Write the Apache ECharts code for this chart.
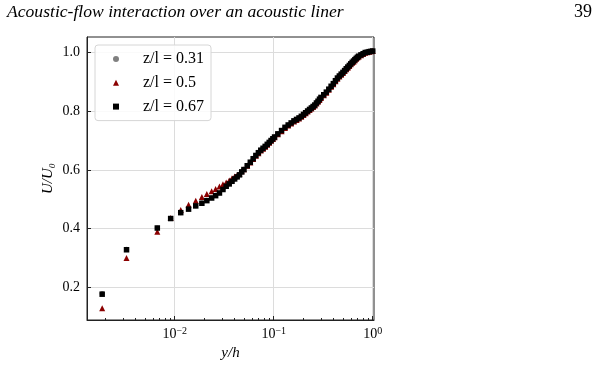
<!DOCTYPE html>
<html>
<head>
<meta charset="utf-8">
<script src="https://cdn.jsdelivr.net/npm/echarts@6/dist/echarts.min.js"></script>
<style>
  html, body { margin: 0; padding: 0; background: #fff; }
  #chart { width: 600px; height: 365px; }
</style>
</head>
<body>
<div id="chart"></div>
<script>
// y/h positions (shared by all three profiles)
const yOverH = [
  0.00185, 0.00326, 0.00667, 0.0091, 0.0115, 0.0138, 0.0163, 0.0188, 0.0211, 0.0236, 0.0259, 0.0283,
  0.0307, 0.0331, 0.0355, 0.0379, 0.0403, 0.0427, 0.0451, 0.0475, 0.050,
  0.054, 0.058, 0.062, 0.066, 0.070, 0.074, 0.078, 0.082, 0.086, 0.090, 0.094, 0.098,
  0.102, 0.11, 0.12, 0.13, 0.14, 0.15, 0.16, 0.17, 0.18, 0.19, 0.20, 0.21, 0.22, 0.23, 0.24, 0.25, 0.26, 0.27, 0.28, 0.29, 0.30,
  0.32, 0.34, 0.36, 0.38, 0.40, 0.42, 0.44, 0.46, 0.48, 0.50, 0.52, 0.54, 0.56, 0.58, 0.60, 0.62, 0.64, 0.66, 0.68, 0.70, 0.72, 0.76, 0.80, 0.84, 0.88, 0.92, 0.96, 1.0
];

// U/U0 for z/l = 0.31 (grey, drawn first, mostly hidden)
const uZ031 = [
  0.178, 0.329, 0.402, 0.434, 0.454, 0.467, 0.478, 0.487, 0.496, 0.505, 0.513, 0.522,
  0.534, 0.544, 0.553, 0.561, 0.569, 0.577, 0.584, 0.593, 0.601,
  0.614, 0.626, 0.638, 0.649, 0.658, 0.667, 0.674, 0.680, 0.687, 0.694, 0.700, 0.706,
  0.712, 0.723, 0.734, 0.745, 0.753, 0.760, 0.767, 0.772, 0.777, 0.783, 0.789, 0.795, 0.801, 0.806, 0.811, 0.816, 0.821, 0.828, 0.834, 0.841, 0.847,
  0.856, 0.865, 0.875, 0.885, 0.894, 0.904, 0.913, 0.920, 0.926, 0.932, 0.938, 0.945, 0.950, 0.956, 0.961, 0.967, 0.971, 0.976, 0.980, 0.984, 0.987, 0.992, 0.996, 1.000, 1.001, 1.003, 1.004, 1.005
];

// U/U0 for z/l = 0.5 (dark red triangles)
const uZ05 = [
  0.128, 0.299, 0.389, 0.436, 0.463, 0.481, 0.495, 0.507, 0.518, 0.527, 0.535, 0.543,
  0.551, 0.557, 0.564, 0.571, 0.577, 0.582, 0.587, 0.595, 0.602,
  0.614, 0.625, 0.637, 0.648, 0.657, 0.666, 0.672, 0.679, 0.686, 0.692, 0.699, 0.705,
  0.711, 0.721, 0.732, 0.743, 0.751, 0.758, 0.765, 0.770, 0.775, 0.781, 0.787, 0.793, 0.799, 0.804, 0.809, 0.814, 0.819, 0.826, 0.832, 0.838, 0.845,
  0.854, 0.863, 0.873, 0.883, 0.892, 0.902, 0.911, 0.918, 0.924, 0.930, 0.937, 0.943, 0.948, 0.954, 0.960, 0.965, 0.969, 0.974, 0.979, 0.983, 0.986, 0.991, 0.995, 0.999, 1.001, 1.003, 1.004, 1.005
];

// U/U0 for z/l = 0.67 (black squares, drawn last)
const uZ067 = [
  0.176, 0.3275, 0.4017, 0.434, 0.454, 0.466, 0.477, 0.486, 0.495, 0.504, 0.512, 0.521,
  0.533, 0.544, 0.552, 0.561, 0.569, 0.576, 0.583, 0.593, 0.601,
  0.614, 0.626, 0.638, 0.649, 0.6585, 0.667, 0.6736, 0.680, 0.687, 0.6936, 0.700, 0.706,
  0.712, 0.7227, 0.734, 0.745, 0.753, 0.760, 0.767, 0.772, 0.777, 0.7826, 0.789, 0.7948, 0.8007, 0.806, 0.811, 0.816, 0.821, 0.828, 0.834, 0.841, 0.847,
  0.856, 0.865, 0.875, 0.885, 0.894, 0.904, 0.913, 0.920, 0.9264, 0.9323, 0.9385, 0.9449, 0.9505, 0.956, 0.9615, 0.9666, 0.971, 0.9757, 0.9799, 0.9838, 0.9875, 0.992, 0.996, 1.0, 1.001, 1.003, 1.004, 1.005
];

const seriesNames = ['z/l = 0.31', 'z/l = 0.5', 'z/l = 0.67'];
const xMajorTicks = [0.01, 0.1, 1];
const xMinorTicks = [
  0.002, 0.003, 0.004, 0.005, 0.006, 0.007, 0.008, 0.009,
  0.02, 0.03, 0.04, 0.05, 0.06, 0.07, 0.08, 0.09,
  0.2, 0.3, 0.4, 0.5, 0.6, 0.7, 0.8, 0.9
];
const yTicks = [0.2, 0.4, 0.6, 0.8, 1.0];
const xTickLabels = { 0.01: '\u22122', 0.1: '\u22121', 1: '0' };

const FONT = 'Liberation Serif';

function pairs(ys) {
  return yOverH.map((x, i) => [x, ys[i]]);
}

const chart = echarts.init(document.getElementById('chart'));

const option = {
  animation: false,
  backgroundColor: '#fff',
  title: [
    {
      text: 'Acoustic-flow interaction over an acoustic liner',
      left: 2, top: -2,
      textStyle: { fontFamily: FONT, fontStyle: 'italic', fontWeight: 'normal', fontSize: 17.6, color: '#000' }
    },
    {
      text: '39',
      left: 569, top: -2,
      textStyle: { fontFamily: FONT, fontWeight: 'normal', fontSize: 18, color: '#000' }
    }
  ],
  grid: {
    left: 87, right: 226, top: 37, bottom: 45,
    show: true, borderColor: '#222', borderWidth: 1,
    outerBoundsMode: 'none'
  },
  legend: {
    orient: 'vertical',
    left: 95, top: 45,
    padding: [6, 7, 6, 18],
    itemWidth: 6, itemHeight: 6,
    itemGap: 7.8,
    backgroundColor: 'rgba(255,255,255,0.85)',
    borderColor: '#d6d6d6', borderWidth: 1, borderRadius: 3,
    textStyle: { fontFamily: FONT, fontSize: 16, color: '#000', lineHeight: 14, padding: [0, 0, 0, 19] },
    data: [
      { name: seriesNames[0], icon: 'circle' },
      { name: seriesNames[1], icon: 'triangle' },
      { name: seriesNames[2], icon: 'rect' }
    ]
  },
  xAxis: [
    {
      type: 'log', logBase: 10,
      min: 0.0013, max: 1.03,
      name: 'y/h', nameLocation: 'middle', nameGap: 22,
      nameTextStyle: { fontFamily: FONT, fontStyle: 'italic', fontSize: 15, color: '#000' },
      axisLine: { show: true, lineStyle: { color: '#222', width: 1 } },
      axisTick: { show: true, inside: true, length: 4, customValues: xMajorTicks, lineStyle: { color: '#222' } },
      axisLabel: {
        customValues: xMajorTicks, margin: 6, color: '#000',
        fontFamily: FONT, fontSize: 14,
        formatter: v => '10{sup|' + xTickLabels[v] + '}',
        rich: {
          sup: { fontFamily: FONT, fontSize: 10, verticalAlign: 'top', padding: [0, 0, 6, 0], color: '#000' }
        }
      },
      splitLine: { show: true, lineStyle: { color: '#dcdcdc', width: 1 } },
      minorTick: { show: false },
      minorSplitLine: { show: false }
    },
    {
      type: 'log', logBase: 10,
      min: 0.0013, max: 1.03,
      gridIndex: 0, position: 'bottom',
      axisLine: { show: false },
      axisTick: { show: true, inside: true, length: 2, customValues: xMinorTicks, lineStyle: { color: '#222' } },
      axisLabel: { show: false },
      splitLine: { show: false }
    }
  ],
  yAxis: {
    type: 'value',
    min: 0.088, max: 1.053,
    name: 'U/U\u2080', nameLocation: 'middle', nameGap: 31, nameRotate: 90,
    nameTextStyle: { fontFamily: FONT, fontStyle: 'italic', fontSize: 15, color: '#000' },
    axisLine: { show: true, lineStyle: { color: '#222', width: 1 } },
    axisTick: { show: true, inside: true, length: 4, customValues: yTicks, lineStyle: { color: '#222' } },
    axisLabel: {
      customValues: yTicks, margin: 7, color: '#000',
      fontFamily: FONT, fontSize: 14,
      formatter: v => v.toFixed(1)
    },
    splitLine: { show: true, lineStyle: { color: '#dcdcdc', width: 1 } }
  },
  series: [
    {
      name: seriesNames[0], type: 'scatter', xAxisIndex: 0,
      symbol: 'circle', symbolSize: 5,
      itemStyle: { color: '#808080', opacity: 1 },
      data: pairs(uZ031)
    },
    {
      name: seriesNames[1], type: 'scatter', xAxisIndex: 0,
      symbol: 'triangle', symbolSize: 6,
      itemStyle: { color: '#8b0000', opacity: 1 },
      data: pairs(uZ05)
    },
    {
      name: seriesNames[2], type: 'scatter', xAxisIndex: 0,
      symbol: 'rect', symbolSize: 5.5,
      itemStyle: { color: '#000', opacity: 1 },
      data: pairs(uZ067)
    }
  ]
};

chart.setOption(option);
</script>
</body>
</html>
